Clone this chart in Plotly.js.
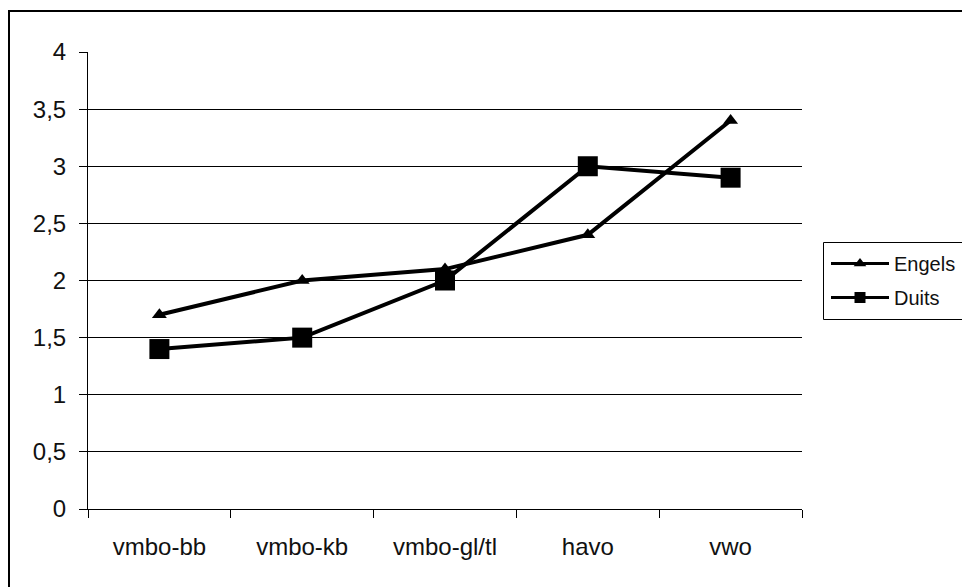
<!DOCTYPE html>
<html>
<head>
<meta charset="utf-8">
<script src="https://cdn.plot.ly/plotly-3.0.1.min.js"></script>
<style>
  html, body { margin: 0; padding: 0; background: #fff; }
  #chart { width: 962px; height: 587px; }
</style>
</head>
<body>
<div id="chart"></div>
<script>
// School levels on the x axis
const categories = ['vmbo-bb', 'vmbo-kb', 'vmbo-gl/tl', 'havo', 'vwo'];
// Average scores per language
const engels = [1.7, 2.0, 2.1, 2.4, 3.4];
const duits = [1.4, 1.5, 2.0, 3.0, 2.9];
// Y axis ticks, shown with a decimal comma
const yTicks = [0, 0.5, 1, 1.5, 2, 2.5, 3, 3.5, 4];
const yTickLabels = ['0', '0,5', '1', '1,5', '2', '2,5', '3', '3,5', '4'];

const FONT = 'Arial, "Liberation Sans", sans-serif';

const traces = [
  {
    x: categories, y: engels, name: 'Engels', type: 'scatter', mode: 'lines+markers',
    line: { color: '#000', width: 4 },
    marker: { symbol: 'triangle-up', size: 13, color: '#000' },
    showlegend: false, cliponaxis: false
  },
  {
    x: categories, y: duits, name: 'Duits', type: 'scatter', mode: 'lines+markers',
    line: { color: '#000', width: 4 },
    marker: { symbol: 'square', size: 20, color: '#000' },
    showlegend: false, cliponaxis: false
  },
  // legend entries with smaller symbols
  {
    x: [null], y: [null], name: 'Engels', type: 'scatter', mode: 'lines+markers',
    legendgroup: 'e',
    line: { color: '#000', width: 3 },
    marker: { symbol: 'triangle-up', size: 11, color: '#000' }
  },
  {
    x: [null], y: [null], name: 'Duits', type: 'scatter', mode: 'lines+markers',
    legendgroup: 'd',
    line: { color: '#000', width: 3 },
    marker: { symbol: 'square', size: 11, color: '#000' }
  }
];

// pixel -> paper helpers for the frame shapes
const L = 88, R = 160, T = 52, B = 78, W = 962, H = 587;
const pw = W - L - R, ph = H - T - B;
const px = v => (v - L) / pw;
const py = v => (H - B - v) / ph;

const layout = {
  width: W, height: H,
  margin: { l: L, r: R, t: T, b: B, autoexpand: false },
  paper_bgcolor: '#fff', plot_bgcolor: '#fff',
  font: { family: FONT, color: '#111', size: 24 },
  showlegend: true,
  legend: {
    x: px(826), xanchor: 'left', y: py(244), yanchor: 'top',
    bgcolor: 'rgba(0,0,0,0)', borderwidth: 0,
    font: { family: FONT, size: 20, color: '#111' },
    itemwidth: 58, tracegroupgap: 5
  },
  xaxis: {
    type: 'category', range: [-0.5, 4.5],
    showline: true, linecolor: '#000', linewidth: 1,
    ticks: 'outside', tickson: 'boundaries', ticklen: 8, tickcolor: '#000', tickwidth: 1,
    showgrid: false, zeroline: false,
    ticklabelstandoff: 16,
    tickfont: { family: FONT, size: 24, color: '#111' }
  },
  yaxis: {
    range: [0, 4], tickvals: yTicks, ticktext: yTickLabels,
    showline: true, linecolor: '#000', linewidth: 1,
    ticks: 'outside', ticklen: 8, tickcolor: '#000', tickwidth: 1,
    showgrid: true, gridcolor: '#000', gridwidth: 1,
    zeroline: false,
    ticklabelstandoff: 8,
    tickfont: { family: FONT, size: 24, color: '#111' }
  },
  shapes: [
    // outer chart frame
    { type: 'rect', xref: 'paper', yref: 'paper',
      x0: px(9), x1: px(975), y0: py(600), y1: py(11),
      line: { color: '#000', width: 2 }, fillcolor: 'rgba(0,0,0,0)', layer: 'below' },
    // legend box
    { type: 'rect', xref: 'paper', yref: 'paper',
      x0: px(823.5), x1: px(975), y0: py(319.5), y1: py(242.5),
      line: { color: '#000', width: 1 }, fillcolor: 'rgba(0,0,0,0)', layer: 'above' }
  ]
};

Plotly.newPlot('chart', traces, layout, { staticPlot: true });
</script>
</body>
</html>
